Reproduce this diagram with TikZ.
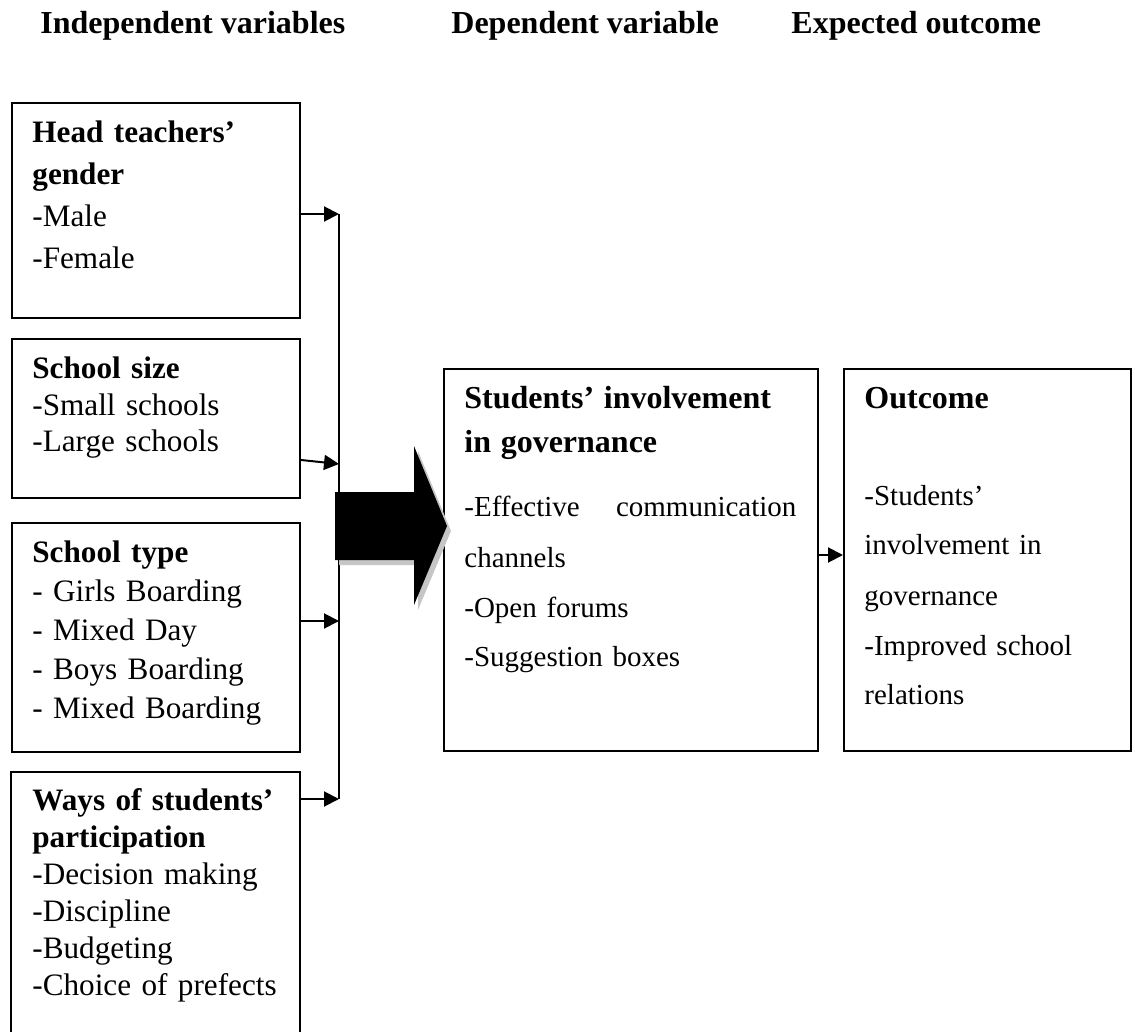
\documentclass[tikz,border=0pt]{standalone}
\usepackage{fontspec}
\setmainfont{Liberation Serif}
\usetikzlibrary{arrows.meta, positioning}

\newcommand{\boxtitle}[1]{{\fontsize{16pt}{18pt}\selectfont\bfseries #1}}

\begin{document}
\begin{tikzpicture}[
    x=0.5pt, y=-0.5pt,
    every node/.style={font=\fontsize{16pt}{18pt}\selectfont, inner sep=0pt},
    box/.style={draw, line width=1pt, anchor=north west},
    arrow/.style={-{Triangle[length=7.5pt, width=7.5pt]}, line width=1pt},
    heading/.style={font=\fontsize{16pt}{18pt}\selectfont\bfseries, anchor=base west},
    txt/.style={align=left, anchor=base west, text width=134pt}
]
\useasboundingbox (0,0) rectangle (1135,1032);

% Column headings
\node[heading] (indep) at (40,34) {Independent variables};
\node[heading] (dep) at (451,34) {Dependent variable};
\node[heading] (expect) at (791,34) {Expected outcome};

% ============ INDEPENDENT VARIABLES ============
\node[box, minimum width=144pt, minimum height=107.5pt] (gender) at (11,102) {};
\node[txt, font=\fontsize{15.6pt}{21pt}\selectfont] (gendertxt) at (32,143)
    {\textbf{Head teachers’}\\\textbf{gender}\\-Male\\-Female};

\node[box, minimum width=144pt, minimum height=79.5pt] (size) at (11,338) {};
\node[txt, font=\fontsize{15.6pt}{18pt}\selectfont] (sizetxt) at (32,379)
    {\textbf{School size}\\-Small schools\\-Large schools};

\node[box, minimum width=144pt, minimum height=114.5pt] (type) at (11,522) {};
\node[txt, font=\fontsize{15.6pt}{19.5pt}\selectfont] (typetxt) at (32,562)
    {\textbf{School type}\\- Girls Boarding\\- Mixed Day\\- Boys Boarding\\- Mixed Boarding};

% last box runs off the page
\node[anchor=north west, minimum width=144pt, minimum height=131pt] (ways) at (11,772) {};
\draw[line width=1pt] (ways.south west) -- (ways.north west) -- (ways.north east) -- (ways.south east);
\node[txt, font=\fontsize{15.6pt}{18.5pt}\selectfont] (waystxt) at (32,810)
    {\textbf{Ways of students’}\\\textbf{participation}\\-Decision making\\-Discipline\\-Budgeting\\-Choice of prefects};

% Joining line
\coordinate (j1) at (339,214);
\coordinate (j2) at (339,464);
\coordinate (j3) at (339,621);
\coordinate (j4) at (339,799);
\draw[line width=1pt] (j1) -- (j4);
\draw[arrow] (gender.east |- j1) -- (j1);
\draw[arrow] ([yshift=2pt]size.east |- j2) -- (j2);
\draw[arrow] (type.east |- j3) -- (j3);
\draw[arrow] (ways.east |- j4) -- (j4);

% ============ DEPENDENT VARIABLE ============
\node[box, minimum width=187pt, minimum height=191pt] (invol) at (443,368) {};
\node[txt, text width=166pt, font=\fontsize{14.5pt}{25pt}\selectfont] (involtxt) at (464,408)
    {\boxtitle{Students’ involvement}\\[-3pt]\boxtitle{in governance}\\[7.5pt]\makebox[166pt]{-Effective\hfill communication}\\channels\\-Open forums\\-Suggestion boxes};

% Big block arrow
\fill[gray!45] (339,497) -- (418,497) -- (418,451) -- (451,531) -- (418,610) -- (418,565) -- (339,565) -- cycle;
\fill[black] (335,492) -- (414,492) -- (414,446) -- (447,526) -- (414,605) -- (414,560) -- (335,560) -- cycle;

% ============ EXPECTED OUTCOME ============
\node[box, minimum width=143.5pt, minimum height=191pt] (outcome) at (843,368) {};
\node[txt, font=\fontsize{14.5pt}{25pt}\selectfont] (outcometxt) at (864,408)
    {\boxtitle{Outcome}\\[23.5pt]-Students’\\involvement in\\governance\\-Improved school\\relations};

\draw[arrow] (invol.east |- 0,555) -- (outcome.west |- 0,555);

\end{tikzpicture}
\end{document}
